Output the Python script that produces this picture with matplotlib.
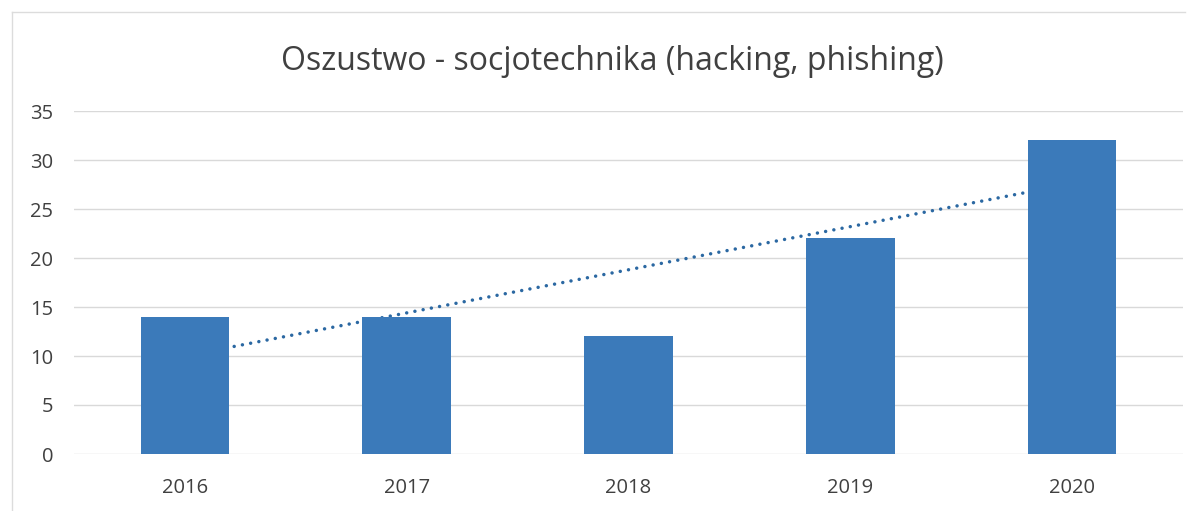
import matplotlib
matplotlib.use("Agg")
import matplotlib.pyplot as plt
from matplotlib.lines import Line2D
import numpy as np

years = ["2016", "2017", "2018", "2019", "2020"]
values = [14, 14, 12, 22, 32]
title = "Oszustwo - socjotechnika (hacking, phishing)"

plt.rcParams['font.family'] = ['Open Sans', 'DejaVu Sans']

W, H = 1199, 511
fig = plt.figure(figsize=(W / 100, H / 100), dpi=100)
ax = fig.add_axes([74 / W, 1 - 454 / H, (1183 - 74) / W, (454 - 111) / H])

x = np.arange(len(years))
# linear trendline (drawn behind the bars)
coef = np.polyfit(x + 1, values, 1)
xt = np.array([x[0], x[-1]])
ax.plot(xt, np.polyval(coef, xt + 1), linestyle=(0, (0.01, 2.4)), color="#2b68a2",
        linewidth=2.5, zorder=2, dash_capstyle="round")
ax.bar(x, values, width=0.4, color="#3b7aba", zorder=3)

ax.set_xlim(-0.5, 4.5)
ax.set_ylim(0, 35)
ax.set_yticks(range(0, 36, 5))
ax.set_xticks(x)
ax.set_xticklabels(years)
ax.grid(axis="y", color="#d9d9d9", linewidth=1, zorder=0)
ax.set_axisbelow(True)
for s in ax.spines.values():
    s.set_visible(False)
ax.tick_params(axis="both", length=0, labelsize=14.5, labelcolor="#404040")
ax.tick_params(axis="y", pad=15)
ax.tick_params(axis="x", pad=17)

fig.text(612 / W, 1 - 61 / H, title, ha="center", va="center", fontsize=23,
         color="#404040")

# chart frame (top and left edges visible)
fig.add_artist(Line2D([12 / W, 1185 / W], [1 - 12 / H, 1 - 12 / H], color="#dcdcdc",
                      linewidth=1, transform=fig.transFigure))
fig.add_artist(Line2D([12 / W, 12 / W], [1 - 12 / H, 0], color="#dcdcdc",
                      linewidth=1, transform=fig.transFigure))

fig.savefig("out.png", dpi=100)
